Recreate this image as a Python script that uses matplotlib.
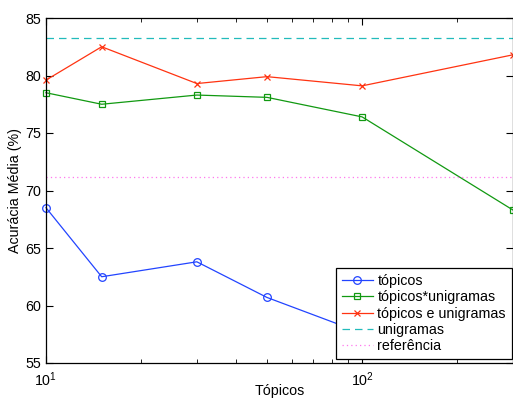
import matplotlib
matplotlib.use("Agg")
import matplotlib.pyplot as plt
import numpy as np

plt.rcParams['font.family'] = ['Liberation Sans', 'DejaVu Sans']

# numero de topicos
topicos_n = [10, 15, 30, 50, 100, 300]

# acuracia media (%)
acc_topicos = [68.5, 62.5, 63.8, 60.7, 57.6, 60.0]
acc_top_x_uni = [78.5, 77.5, 78.3, 78.1, 76.4, 68.3]
acc_top_e_uni = [79.6, 82.5, 79.3, 79.9, 79.1, 81.8]
acc_unigramas = 83.3
acc_referencia = 71.2

legend_labels = ['tópicos', 'tópicos*unigramas', 'tópicos e unigramas',
                 'unigramas', 'referência']

fig = plt.figure(figsize=(5.13, 4.01), dpi=100)
ax = fig.add_axes([46/513, 38/401, 467/513, 345/401])

lw = 0.9
ax.plot(topicos_n, acc_topicos, '-o', color='#2244ff', lw=lw, ms=5.5,
        mfc='none', mew=0.9, label=legend_labels[0], clip_on=False)
ax.plot(topicos_n, acc_top_x_uni, '-s', color='#119911', lw=lw, ms=5,
        mfc='none', mew=0.9, label=legend_labels[1], clip_on=False)
ax.plot(topicos_n, acc_top_e_uni, '-x', color='#ff3311', lw=lw, ms=5,
        mew=0.9, label=legend_labels[2], clip_on=False)
ax.axhline(acc_unigramas, color='#22bbbb', ls=(0, (6, 4)), lw=lw,
           label=legend_labels[3])
ax.axhline(acc_referencia, color='#ff77ee', ls=(0, (1, 2.5)), lw=lw,
           label=legend_labels[4])

ax.set_xscale('log')
ax.set_xlim(10, 300)
ax.set_ylim(55, 85)
ax.set_yticks([55, 60, 65, 70, 75, 80, 85])
ax.tick_params(which='both', direction='in', top=True, right=True,
               labelsize=10.3)
ax.tick_params(which='major', length=5)
ax.tick_params(which='minor', length=3)
ax.tick_params(axis='x', pad=5)
ax.set_xlabel('Tópicos', fontsize=10.3, labelpad=-3)
ax.set_ylabel('Acurácia Média (%)', fontsize=10.3, labelpad=2)
for s in ax.spines.values():
    s.set_linewidth(0.9)

leg = ax.legend(loc='upper left', bbox_to_anchor=(336/513, 1 - 268/401),
                bbox_transform=fig.transFigure, fontsize=10.3, frameon=True,
                fancybox=False, edgecolor='black', framealpha=1,
                borderpad=0.4, labelspacing=0.17, handlelength=2.2,
                handletextpad=0.3, borderaxespad=0)
leg.get_frame().set_linewidth(0.9)

fig.savefig('out.png', dpi=100)
